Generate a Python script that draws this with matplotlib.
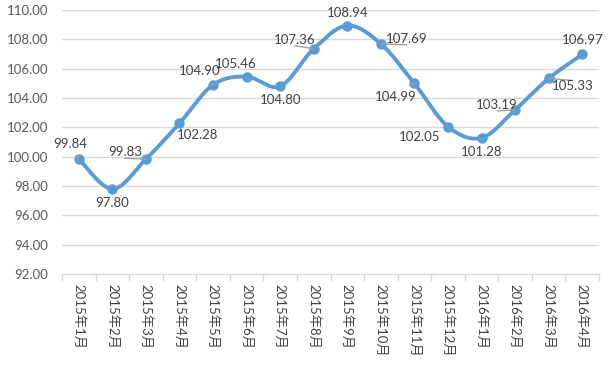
import numpy as np
import matplotlib
matplotlib.use("Agg")
import matplotlib.pyplot as plt

plt.rcParams['font.family'] = ['Lato', 'Noto Sans CJK SC', 'DejaVu Sans']

months = ["2015年1月", "2015年2月", "2015年3月", "2015年4月", "2015年5月", "2015年6月",
          "2015年7月", "2015年8月", "2015年9月", "2015年10月", "2015年11月", "2015年12月",
          "2016年1月", "2016年2月", "2016年3月", "2016年4月"]
values = [99.84, 97.80, 99.83, 102.28, 104.90, 105.46, 104.80, 107.36,
          108.94, 107.69, 104.99, 102.05, 101.28, 103.19, 105.33, 106.97]

# label offsets (pixels) and whether a leader line is drawn
label_offsets = [(-9, 15), (0, -14), (-21, 7), (18, -12), (-13, 14), (-11, 13),
                 (0, -14), (-19, 9), (0, 13), (26, 5), (-19, -14), (-28, -10),
                 (0, -14), (-18, 5), (24, -8), (0, 14)]
leaders = [1, 0, 1, 1, 1, 0, 0, 1, 0, 1, 1, 1, 0, 1, 1, 0]

blue = "#5B9BD5"
grid = "#D9D9D9"
txt = "#404040"


def smooth(x, y, n=30):
    # Catmull-Rom style bezier smoothing, similar to the Excel smoothed line
    x = np.asarray(x, float)
    y = np.asarray(y, float)
    px = np.concatenate([[x[0]], x, [x[-1]]])
    py = np.concatenate([[y[0]], y, [y[-1]]])
    xs, ys = [], []
    t = np.linspace(0, 1, n)
    for i in range(1, len(px) - 2):
        p0 = np.array([px[i], py[i]])
        p3 = np.array([px[i + 1], py[i + 1]])
        p1 = p0 + (np.array([px[i + 1], py[i + 1]]) - np.array([px[i - 1], py[i - 1]])) / 6
        p2 = p3 - (np.array([px[i + 2], py[i + 2]]) - np.array([px[i], py[i]])) / 6
        b = ((1 - t) ** 3)[:, None] * p0 + (3 * (1 - t) ** 2 * t)[:, None] * p1 \
            + (3 * (1 - t) * t ** 2)[:, None] * p2 + (t ** 3)[:, None] * p3
        xs.extend(b[:, 0])
        ys.extend(b[:, 1])
    return xs, ys


fig = plt.figure(figsize=(6.16, 3.87), dpi=100)
ax = fig.add_axes([62 / 616, 1 - 274 / 387, 537 / 616, 264 / 387])

x = np.arange(len(values))
sx, sy = smooth(x, values)
ax.plot(sx, sy, color=blue, lw=2.8, solid_capstyle='round', zorder=3)
ax.plot(x, values, 'o', color=blue, ms=6.5, zorder=4)

for i, v in enumerate(values):
    dx, dy = label_offsets[i]
    ap = None
    if leaders[i]:
        ap = dict(arrowstyle='-', color='#A0A0A0', lw=1.0, shrinkA=0, shrinkB=0,
                  relpos=(0.5, 0.0) if dy > 0 else (0.5, 1.0))
    ax.annotate(f"{v:.2f}", (i, v), xytext=(dx, dy), textcoords='offset pixels',
                ha='center', va='center', fontsize=9.5, color=txt, arrowprops=ap, zorder=5,
                bbox=dict(boxstyle='square,pad=0.45', fc='none', ec='none'))

ax.set_xlim(-0.5, len(values) - 0.5)
ax.set_ylim(92, 110)
ax.set_yticks(np.arange(92, 110.1, 2))
ax.set_yticklabels([f"{t:.2f}" for t in np.arange(92, 110.1, 2)])
ax.yaxis.grid(True, color=grid, lw=1)
ax.set_axisbelow(True)

ax.set_xticks(x)
ax.set_xticklabels(months, rotation=270, fontsize=9.5, color=txt, va='top', ha='center')
ax.set_xticks(np.arange(-0.5, len(values)), minor=True)
ax.tick_params(axis='x', which='major', length=0, pad=7)
ax.tick_params(axis='x', which='minor', length=5, color=grid, width=1)
ax.tick_params(axis='y', length=0, pad=10, labelsize=9.5, labelcolor="#595959")

for s in ['left', 'right', 'top']:
    ax.spines[s].set_visible(False)
ax.spines['bottom'].set_color(grid)

fig.savefig("out.png", dpi=100)
